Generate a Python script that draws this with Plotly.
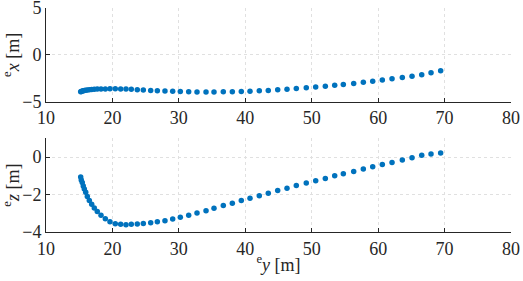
import plotly.graph_objects as go
from plotly.subplots import make_subplots

ey = [15.22, 15.31, 15.46, 15.61, 15.77, 15.98, 16.22, 16.52, 16.88, 17.27,
      17.72, 18.28, 18.93, 19.63, 20.43, 21.24, 22.04, 22.84, 23.74, 24.65,
      25.76, 26.76, 27.91, 29.07, 30.22, 31.48, 32.73, 34.09, 35.29, 36.69,
      38.05, 39.40, 40.71, 42.11, 43.46, 44.88, 46.28, 47.68, 49.18, 50.60,
      52.05, 53.46, 54.76, 56.32, 57.77, 59.18, 60.63, 62.09, 63.64, 65.10,
      66.56, 67.96, 69.41]
ex = [-3.93, -3.90, -3.86, -3.83, -3.80, -3.77, -3.74, -3.71, -3.69, -3.67,
      -3.65, -3.64, -3.63, -3.62, -3.62, -3.63, -3.65, -3.68, -3.72, -3.75,
      -3.79, -3.82, -3.86, -3.89, -3.92, -3.94, -3.95, -3.95, -3.95, -3.94,
      -3.93, -3.91, -3.88, -3.84, -3.79, -3.73, -3.66, -3.59, -3.51, -3.42,
      -3.34, -3.24, -3.15, -3.05, -2.93, -2.81, -2.67, -2.55, -2.41, -2.27,
      -2.12, -1.91, -1.69]
ez = [-1.07, -1.22, -1.36, -1.54, -1.70, -1.88, -2.11, -2.32, -2.52, -2.72,
      -2.91, -3.11, -3.29, -3.45, -3.56, -3.59, -3.61, -3.59, -3.57, -3.54,
      -3.50, -3.45, -3.40, -3.30, -3.21, -3.11, -2.98, -2.86, -2.73, -2.59,
      -2.46, -2.32, -2.20, -2.06, -1.93, -1.79, -1.66, -1.52, -1.39, -1.27,
      -1.15, -1.00, -0.89, -0.77, -0.64, -0.52, -0.40, -0.29, -0.16, -0.04,
      0.09, 0.16, 0.21]

x_ticks = [10, 20, 30, 40, 50, 60, 70, 80]
ex_ticks = [-5, 0, 5]
ez_ticks = [-4, -2, 0]

fig = make_subplots(rows=2, cols=1, vertical_spacing=0.163)

mk = dict(color="#0072BD", size=5.5)
fig.add_trace(go.Scatter(x=ey, y=ex, mode="markers", marker=mk, cliponaxis=False), row=1, col=1)
fig.add_trace(go.Scatter(x=ey, y=ez, mode="markers", marker=mk, cliponaxis=False), row=2, col=1)

fam = "Liberation Serif, Times New Roman, serif"
font = dict(family=fam, size=18, color="#262626")
axcommon = dict(showline=True, linecolor="#262626", linewidth=1,
                ticks="inside", ticklen=4, tickcolor="#262626",
                showgrid=True, gridcolor="#e0e0e0", griddash="dot", gridwidth=1,
                zeroline=False, tickfont=font, mirror=False,
                ticklabeloverflow="allow", automargin=False)

fig.update_xaxes(range=[10, 80], tickvals=x_ticks, ticklabelstandoff=0, **axcommon)
fig.update_yaxes(ticklabelstandoff=0, **axcommon)
fig.update_yaxes(range=[-5, 5], tickvals=ex_ticks, row=1, col=1,
                 title=dict(text="<sup>e</sup><i>x</i> [m]", font=font, standoff=6))
fig.update_yaxes(range=[-4, 1], tickvals=ez_ticks, row=2, col=1,
                 title=dict(text="<sup>e</sup><i>z</i> [m]", font=font, standoff=6))
fig.update_xaxes(row=2, col=1,
                 title=dict(text="<sup>e</sup><i>y</i> [m]", font=font, standoff=0))

fig.update_layout(width=523, height=281, showlegend=False,
                  margin=dict(l=46, r=12, t=8, b=49),
                  plot_bgcolor="white", paper_bgcolor="white",
                  font=font, template="none")

fig.write_html("out.html", config={"displayModeBar": False},
               post_script="document.body.style.margin='0';document.body.style.overflow='hidden';")
